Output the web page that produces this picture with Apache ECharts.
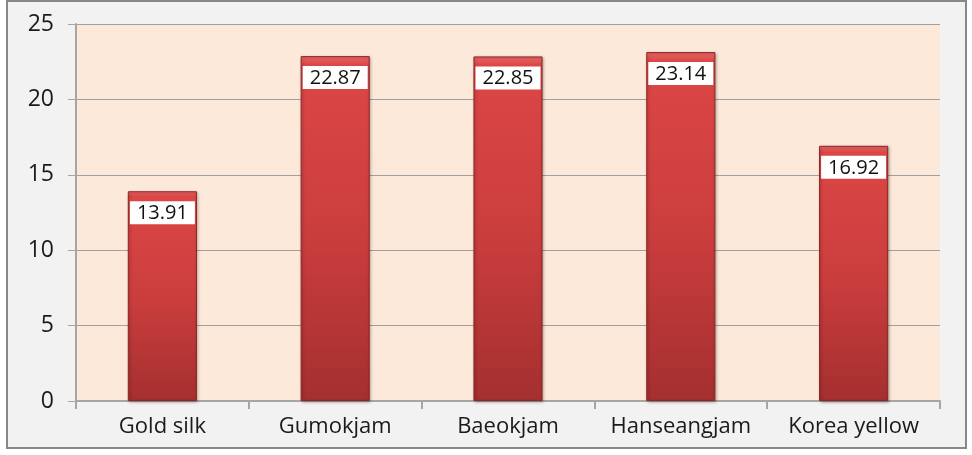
<!DOCTYPE html>
<html>
<head>
<meta charset="utf-8">
<script src="https://cdn.jsdelivr.net/npm/echarts@6/dist/echarts.min.js"></script>
<style>
  html, body { margin: 0; padding: 0; background: #ffffff; }
  #chart-box { width: 972px; height: 455px; }
</style>
</head>
<body>
<div id="chart-box"></div>
<script>
// categories and values
var categoryList = ['Gold silk', 'Gumokjam', 'Baeokjam', 'Hanseangjam', 'Korea yellow'];
var valueList = [13.91, 22.87, 22.85, 23.14, 16.92];
var yTicks = [0, 5, 10, 15, 20, 25];

var chartObj = echarts.init(document.getElementById('chart-box'));
var option = {
  animation: false,
  backgroundColor: '#ffffff',
  graphic: [
    {
      type: 'rect',
      z: -10,
      silent: true,
      shape: { x: 7, y: 1, width: 959, height: 447 },
      style: { fill: '#f2f2f2', stroke: '#878787', lineWidth: 2 }
    }
  ],
  grid: {
    left: 76,
    right: 32,
    top: 24,
    bottom: 54,
    show: true,
    backgroundColor: '#fde9d9',
    borderWidth: 0
  },
  xAxis: {
    type: 'category',
    data: categoryList,
    axisTick: {
      show: true,
      interval: 0,
      alignWithLabel: false,
      length: 8,
      lineStyle: { color: '#a6a6a6', width: 2 }
    },
    axisLine: {
      lineStyle: { color: '#a6a6a6', width: 2 }
    },
    axisLabel: {
      interval: 0,
      color: '#1a1a1a',
      fontFamily: 'Open Sans',
      fontSize: 22,
      margin: 15
    }
  },
  yAxis: {
    type: 'value',
    min: yTicks[0],
    max: yTicks[yTicks.length - 1],
    interval: 5,
    axisTick: {
      show: true,
      length: 8,
      lineStyle: { color: '#a6a6a6', width: 1 }
    },
    axisLine: {
      show: true,
      lineStyle: { color: '#a6a6a6', width: 2 }
    },
    axisLabel: {
      color: '#1a1a1a',
      fontFamily: 'Open Sans',
      fontSize: 23,
      margin: 22
    },
    splitLine: {
      lineStyle: { color: '#a0a0a0', width: 1 }
    }
  },
  series: [
    {
      type: 'bar',
      data: valueList,
      barWidth: '40%',
      itemStyle: {
        color: new echarts.graphic.LinearGradient(0, 0, 0, 1, [
          { offset: 0, color: '#f06a6a' },
          { offset: 0.025, color: '#dc4646' },
          { offset: 0.5, color: '#cc3e3e' },
          { offset: 1, color: '#a52f2f' }
        ]),
        borderColor: '#8e2626',
        borderWidth: 1,
        shadowColor: 'rgba(0,0,0,0.35)',
        shadowBlur: 3,
        shadowOffsetX: 1,
        shadowOffsetY: 1
      },
      label: {
        show: true,
        position: 'insideTop',
        distance: 10,
        color: '#111111',
        fontFamily: 'Open Sans',
        fontSize: 20,
        backgroundColor: '#ffffff',
        padding: [2, 7, 1, 7],
        formatter: function (p) { return p.value.toFixed(2); }
      }
    }
  ]
};
chartObj.setOption(option);
</script>
</body>
</html>
